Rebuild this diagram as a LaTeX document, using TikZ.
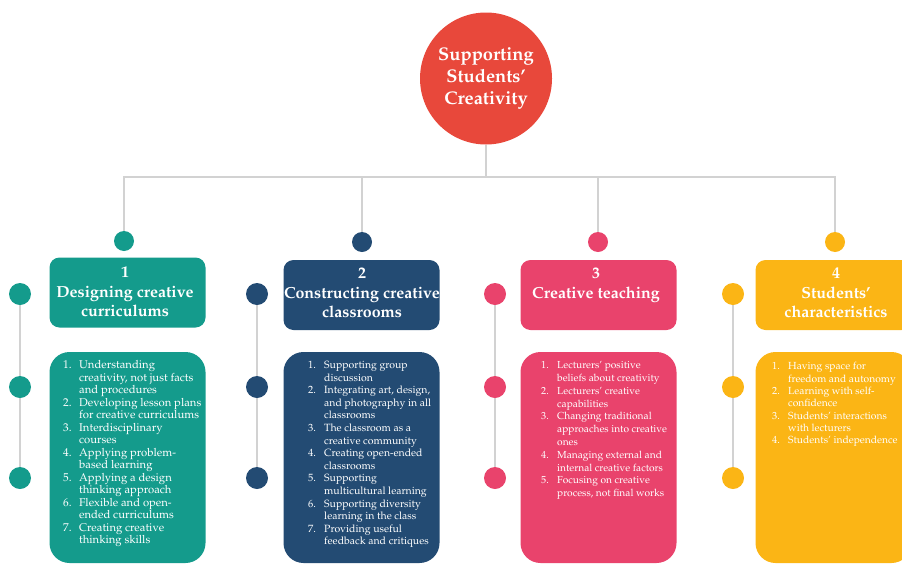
\documentclass[tikz,border=0pt]{standalone}
\usepackage[T1]{fontenc}
\usepackage{mathpazo}
\usetikzlibrary{backgrounds}
\definecolor{cteal}{HTML}{149B8C}
\definecolor{cblue}{HTML}{234B73}
\definecolor{cpink}{HTML}{E9436C}
\definecolor{cyel}{HTML}{FBB515}
\definecolor{cred}{HTML}{E8483B}
\definecolor{cline}{HTML}{D2D2D2}
\newcommand\itm[1]{\makebox[16pt][l]{#1.}}
\tikzset{
  conn/.style={draw=cline, line width=1.3pt},
  topdot/.style={circle, fill=#1, minimum size=20pt, inner sep=0pt},
  sidedot/.style={circle, fill=#1, minimum size=22pt, inner sep=0pt},
  headbox/.style={fill=#1, rounded corners=10pt, minimum width=156pt, minimum height=70pt, inner sep=0pt},
  listbox/.style={fill=#1, rounded corners=20pt, minimum width=156pt, minimum height=211pt, inner sep=0pt},
  headtext/.style={anchor=north, inner sep=0pt, text=white, font=\fontsize{16}{19.5}\selectfont\bfseries},
  listtext/.style={anchor=north west, inner sep=0pt, text=white},
}
\begin{document}
\begin{tikzpicture}[x=1pt,y=-1pt]
\useasboundingbox (0,0) rectangle (902,565);
% root
\node[circle, fill=cred, minimum size=132pt, inner sep=0pt, text=white,
      align=center, font=\fontsize{18.3}{22}\selectfont\bfseries] (root) at (486,78.5)
      {Supporting\\Students'\\Creativity};
\coordinate (hub) at (486,177);
% top dots
\node[topdot=cteal] (t1) at (124,241) {};
\node[topdot=cblue] (t2) at (362,242) {};
\node[topdot=cpink] (t3) at (598,242) {};
\node[topdot=cyel]  (t4) at (835,242) {};
% header boxes
\node[headbox=cteal] (h1) at (127.5,292.5) {};
\node[headbox=cblue] (h2) at (361.5,295) {};
\node[headbox=cpink] (h3) at (598.5,295) {};
\node[headbox=cyel]  (h4) at (833.5,295) {};
% header texts
\node[headtext] (ht1) at (125,264) {\begin{tabular}{@{}c@{}}1\\Designing creative\\curriculums\end{tabular}};
\node[headtext] (ht2) at (362,265) {\begin{tabular}{@{}c@{}}2\\Constructing creative\\classrooms\end{tabular}};
\node[headtext] (ht3) at (596,265) {\begin{tabular}{@{}c@{}}3\\Creative teaching\end{tabular}};
\node[headtext] (ht4) at (836,265) {\begin{tabular}{@{}c@{}}4\\Students'\\characteristics\end{tabular}};
% list boxes
\node[listbox=cteal] (b1) at (127.5,457.5) {};
\node[listbox=cblue] (b2) at (361.5,457.5) {};
\node[listbox=cpink] (b3) at (598.5,457.5) {};
\node[listbox=cyel]  (b4) at (833.5,457.5) {};
% list texts
\node[listtext] (l1) at (63,360) {\fontsize{11.3}{12.5}\selectfont
\begin{tabular}{@{}l@{}l@{}}
\itm1 & Understanding\\
 & creativity, not just facts\\
 & and procedures\\
\itm2 & Developing lesson plans\\
 & for creative curriculums\\
\itm3 & Interdisciplinary\\
 & courses\\
\itm4 & Applying problem-\\
 & based learning\\
\itm5 & Applying a design\\
 & thinking approach\\
\itm6 & Flexible and open-\\
 & ended curriculums\\
\itm7 & Creating creative\\
 & thinking skills
\end{tabular}};
\node[listtext] (l2) at (308,359.5) {\fontsize{10.5}{12.6}\selectfont
\begin{tabular}{@{}l@{}l@{}}
\itm1 & Supporting group\\
 & discussion\\
\itm2 & Integrating art, design,\\
 & and photography in all\\
 & classrooms\\
\itm3 & The classroom as a\\
 & creative community\\
\itm4 & Creating open-ended\\
 & classrooms\\
\itm5 & Supporting\\
 & multicultural learning\\
\itm6 & Supporting diversity\\
 & learning in the class\\
\itm7 & Providing useful\\
 & feedback and critiques
\end{tabular}};
\node[listtext] (l3) at (541,359.5) {\fontsize{10.2}{12.8}\selectfont
\begin{tabular}{@{}l@{}l@{}}
\itm1 & Lecturers' positive\\
 & beliefs about creativity\\
\itm2 & Lecturers' creative\\
 & capabilities\\
\itm3 & Changing traditional\\
 & approaches into creative\\
 & ones\\
\itm4 & Managing external and\\
 & internal creative factors\\
\itm5 & Focusing on creative\\
 & process, not final works
\end{tabular}};
\node[listtext] (l4) at (772,361) {\fontsize{10.3}{12.3}\selectfont
\begin{tabular}{@{}l@{}l@{}}
\itm1 & Having space for\\
 & freedom and autonomy\\
\itm2 & Learning with self-\\
 & confidence\\
\itm3 & Students' interactions\\
 & with lecturers\\
\itm4 & Students' independence
\end{tabular}};
% side dots
\foreach \c/\x/\col in {1/20/cteal,2/257/cblue,3/495/cpink,4/733/cyel}{
  \node[sidedot=\col] (s\c a) at (\x,294) {};
  \node[sidedot=\col] (s\c b) at (\x,387) {};
  \node[sidedot=\col] (s\c c) at (\x,478) {};
}
% connectors
\begin{scope}[on background layer]
\draw[conn] (root.south) -- (hub);
\draw[conn] (t1.center) -- (t1.center |- hub) -- (t4.center |- hub) -- (t4.center);
\draw[conn] (t2.center |- hub) -- (t2.center);
\draw[conn] (t3.center |- hub) -- (t3.center);
\foreach \c in {1,2,3,4}{
  \draw[conn] (s\c a.center) -- (s\c c.center);
}
\end{scope}
\end{tikzpicture}
\end{document}
